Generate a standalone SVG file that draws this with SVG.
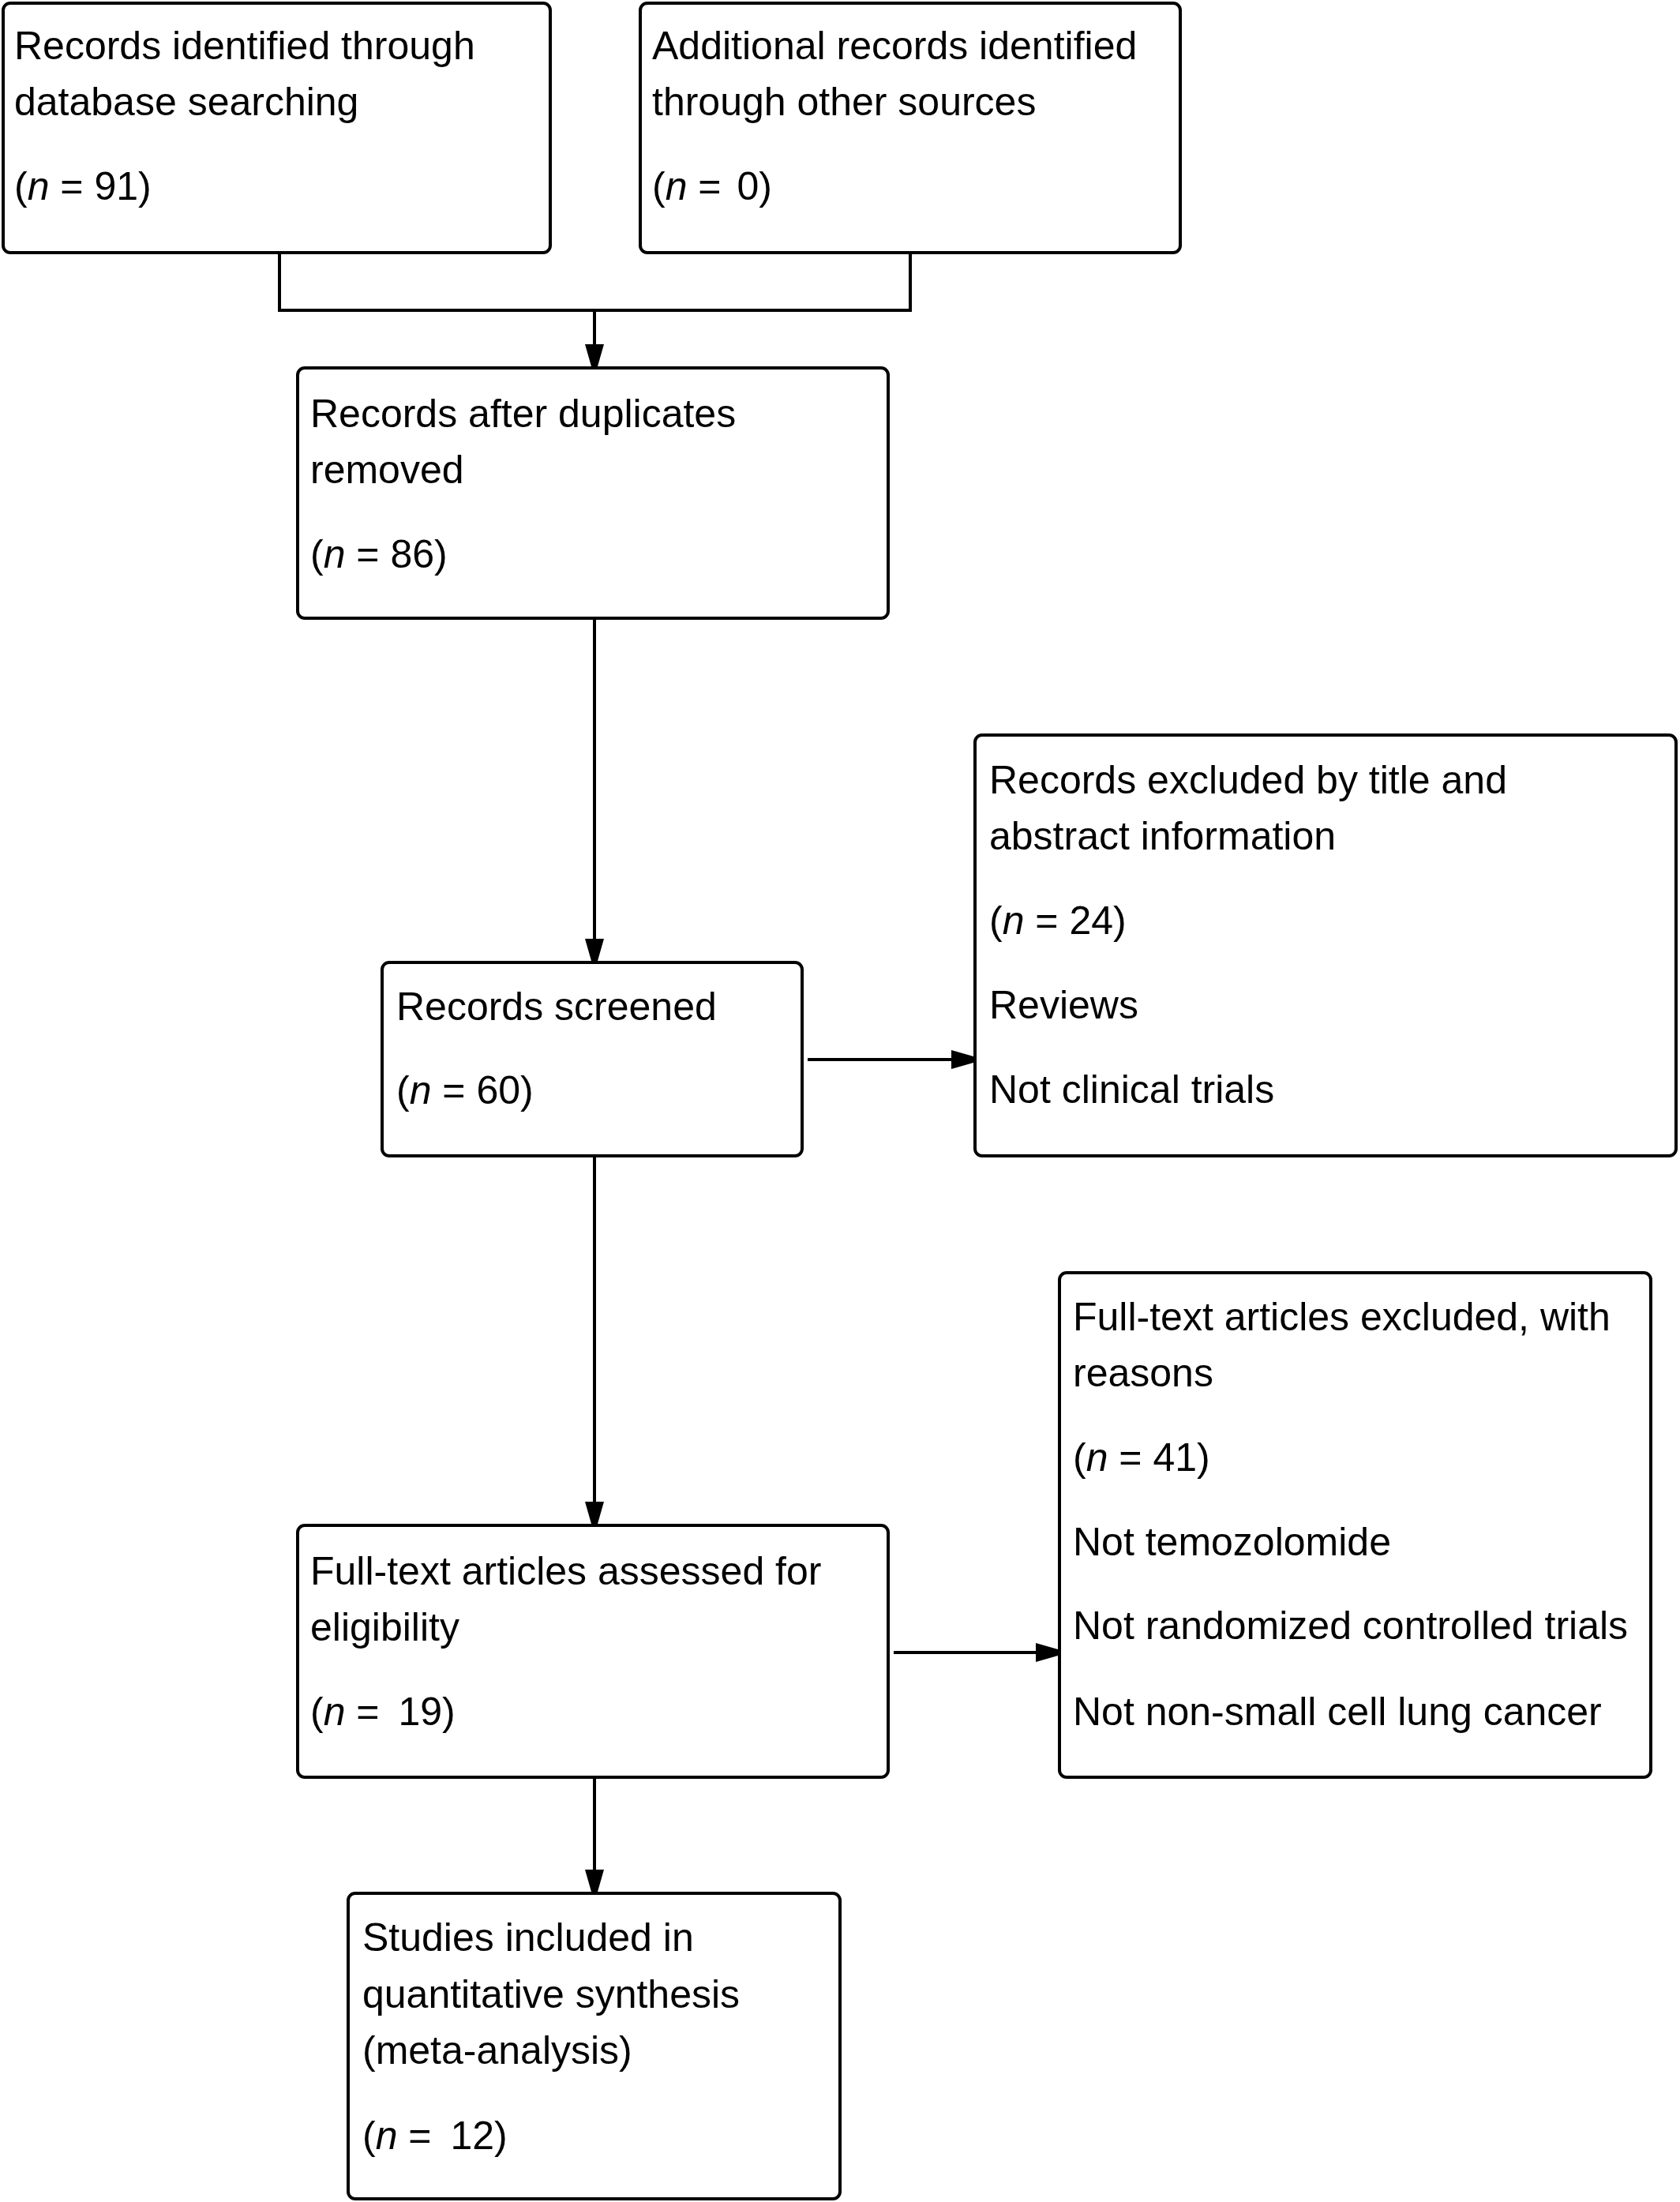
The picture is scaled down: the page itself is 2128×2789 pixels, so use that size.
<svg xmlns="http://www.w3.org/2000/svg" width="2128" height="2789" viewBox="0 0 2128 2789">
<style>
.box{fill:#fff;stroke:#000;stroke-width:4}
.t{font-family:"Liberation Sans",Arial,sans-serif;font-size:50px;fill:#000}
.i{font-style:italic}
.c{fill:none;stroke:#000;stroke-width:4}
</style>
<defs>
<marker id="ah" markerWidth="8" markerHeight="8" refX="7" refY="4" orient="auto" markerUnits="strokeWidth">
<path d="M0,1 L7,3 L7,5 L0,7 Z" fill="#000"/>
</marker>
</defs>
<rect width="2128" height="2789" fill="#fff"/>
<g id="connectors">
<polyline class="c" points="354,320 354,393 1153,393 1153,320"/>
<line class="c" x1="753" y1="393" x2="753" y2="464" marker-end="url(#ah)"/>
<line class="c" x1="753" y1="783" x2="753" y2="1217" marker-end="url(#ah)"/>
<line class="c" x1="1023" y1="1342" x2="1233" y2="1342" marker-end="url(#ah)"/>
<line class="c" x1="753" y1="1464" x2="753" y2="1930" marker-end="url(#ah)"/>
<line class="c" x1="1132" y1="2093" x2="1340" y2="2093" marker-end="url(#ah)"/>
<line class="c" x1="753" y1="2251" x2="753" y2="2396" marker-end="url(#ah)"/>
</g>
<g id="nodeA">
<rect class="box" x="4" y="4" width="693" height="316" rx="9"/>
<text class="t" x="18" y="75">Records identified through</text>
<text class="t" x="18" y="146">database searching</text>
<text class="t" x="18" y="253">(<tspan class="i">n</tspan> = 91)</text>
</g>
<g id="nodeB">
<rect class="box" x="811" y="4" width="684" height="316" rx="9"/>
<text class="t" x="826" y="75">Additional records identified</text>
<text class="t" x="826" y="146">through other sources</text>
<text class="t" x="826" y="253">(<tspan class="i">n</tspan> = <tspan dx="6">0)</tspan></text>
</g>
<g id="nodeC">
<rect class="box" x="377" y="466" width="748" height="317" rx="9"/>
<text class="t" x="393" y="541">Records after duplicates</text>
<text class="t" x="393" y="612">removed</text>
<text class="t" x="393" y="719">(<tspan class="i">n</tspan> = 86)</text>
</g>
<g id="nodeD">
<rect class="box" x="484" y="1219" width="532" height="245" rx="9"/>
<text class="t" x="502" y="1292">Records screened</text>
<text class="t" x="502" y="1398">(<tspan class="i">n</tspan> = 60)</text>
</g>
<g id="nodeE">
<rect class="box" x="1235" y="931" width="888" height="533" rx="9"/>
<text class="t" x="1253" y="1005">Records excluded by title and</text>
<text class="t" x="1253" y="1076">abstract information</text>
<text class="t" x="1253" y="1183">(<tspan class="i">n</tspan> = 24)</text>
<text class="t" x="1253" y="1290">Reviews</text>
<text class="t" x="1253" y="1397">Not clinical trials</text>
</g>
<g id="nodeF">
<rect class="box" x="377" y="1932" width="748" height="319" rx="9"/>
<text class="t" x="393" y="2007">Full-text articles assessed for</text>
<text class="t" x="393" y="2078">eligibility</text>
<text class="t" x="393" y="2185">(<tspan class="i">n</tspan> = <tspan dx="10">19)</tspan></text>
</g>
<g id="nodeG">
<rect class="box" x="1342" y="1612" width="749" height="639" rx="9"/>
<text class="t" x="1359" y="1685">Full-text articles excluded, with</text>
<text class="t" x="1359" y="1756">reasons</text>
<text class="t" x="1359" y="1863">(<tspan class="i">n</tspan> = 41)</text>
<text class="t" x="1359" y="1970">Not temozolomide</text>
<text class="t" x="1359" y="2076">Not randomized controlled trials</text>
<text class="t" x="1359" y="2185">Not non-small cell lung cancer</text>
</g>
<g id="nodeH">
<rect class="box" x="441" y="2398" width="623" height="387" rx="9"/>
<text class="t" x="459" y="2471">Studies included in</text>
<text class="t" x="459" y="2543">quantitative synthesis</text>
<text class="t" x="459" y="2614">(meta-analysis)</text>
<text class="t" x="459" y="2722">(<tspan class="i">n</tspan> = <tspan dx="10">12)</tspan></text>
</g>
</svg>
